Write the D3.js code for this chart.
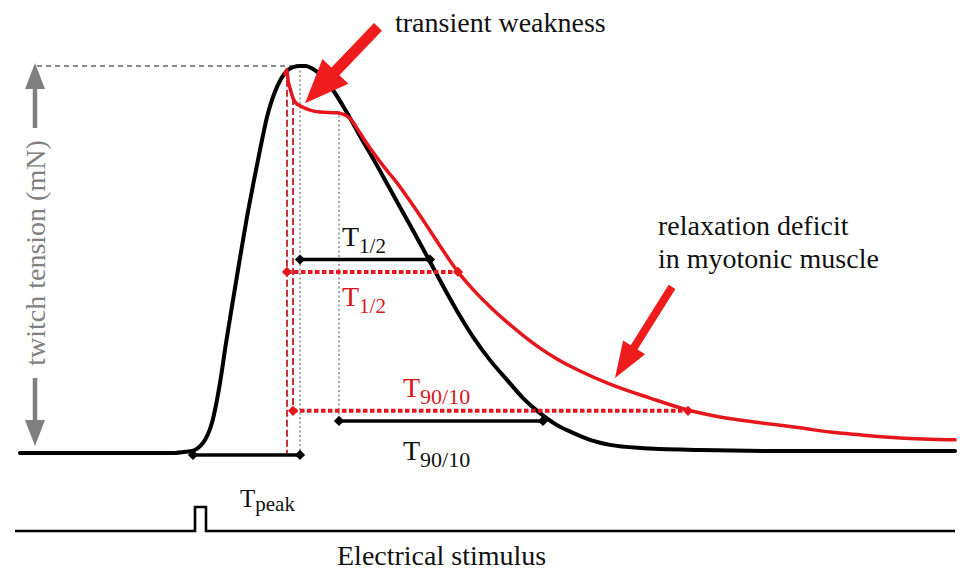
<!DOCTYPE html>
<html>
<head>
<meta charset="utf-8">
<script src="https://cdn.jsdelivr.net/npm/d3@7"></script>
<style>
  html, body { margin: 0; padding: 0; background: #fff; }
  svg { display: block; }
  text { font-family: "Liberation Serif", "Times New Roman", serif; }
</style>
</head>
<body>
<svg id="chart" width="974" height="583"></svg>
<script>
// ---------- DATA (time in ms, tension normalised to peak of control twitch) ----------
const controlTime = [0,16,30,33,34.4,35.6,36.6,37.6,38.4,39.2,40,41.2,42.6,44,45.4,46.8,48,49.4,51.4,53,54.6,56,57.2,58.6,60.6,62.6,65.4,68,72,74,78,81.6,85.4,88,90.6,94,97.4,100.6,104,107.4,110.6,114,118,124,136,156,187];
const controlTension = [0,0,0,0.003,0.005,0.013,0.026,0.049,0.078,0.124,0.181,0.284,0.395,0.504,0.610,0.705,0.783,0.868,0.946,0.982,0.997,1.0,1.0,0.992,0.972,0.938,0.879,0.819,0.729,0.682,0.589,0.504,0.413,0.354,0.300,0.240,0.189,0.142,0.103,0.072,0.052,0.034,0.021,0.013,0.008,0.005,0.005];

const myoTime = [53,53.4,53.6,54,54.6,55.2,56,58,60,63.4,65.4,66.6,67.6,70,73,75.4,78,80.6,84,87.6,91,94,97.4,100.6,104,107.4,112,118,126,133.6,140,148,156,162,168,176,187];
const myoTension = [0.979,0.990,0.964,0.943,0.917,0.904,0.897,0.886,0.881,0.879,0.871,0.855,0.835,0.788,0.736,0.698,0.651,0.602,0.535,0.468,0.417,0.378,0.338,0.304,0.271,0.243,0.212,0.178,0.142,0.111,0.093,0.078,0.065,0.054,0.047,0.039,0.034];

const stimTime = [-1,35,35,37.2,37.2,187];
const stimLevel = [0,0,1,1,0,0];

// interval measurements
const intervalSub    = ["peak","1/2","1/2","90/10","90/10"];
const intervalSeries = ["control","control","myotonic","myotonic","control"];
const intervalStart  = [34.6,56,53.4,54.6,63.8];
const intervalEnd    = [56,82,87.6,133.6,104.6];
const intervalLevel  = [-0.005,0.5,0.468,0.109,0.083];
// label anchors (time, tension) for the interval labels
const labelTime    = [44,64.4,64.4,76.6,76.6];
const labelTension = [-0.140,0.535,0.380,0.145,-0.018];

// guide lines (time, from-tension, to-tension)
const guideSeries = ["control","control","myotonic","myotonic"];
const guideTime   = [56,63.8,53.4,54.6];
const guideFrom   = [1.0,0.884,0.99,0.917];
const guideTo     = [-0.005,0.083,0,0.109];

const annotationTexts = ["transient weakness","relaxation deficit","in myotonic muscle"];
const annotationTime  = [75,127.6,127.6];
const annotationTens  = [1.088,0.563,0.478];

// ---------- SETUP ----------
const svg = d3.select("#chart");
const x = d3.scaleLinear().domain([0,187]).range([20,955]);
const y = d3.scaleLinear().domain([0,1]).range([453,66]);
const yStim = d3.scaleLinear().domain([0,1]).range([531,507]);

const RED = "#e5161c", RED_TXT = "#d9161c", RED_DASH = "#c9333a", GRAY = "#808080";
const colorOf = s => s === "control" ? "#000" : RED;

const curveLine = d3.line().x(d => x(d[0])).y(d => y(d[1])).curve(d3.curveMonotoneX);

// top reference (peak) dashed line
svg.append("line")
  .attr("x1", x(3.4)).attr("x2", x(56)).attr("y1", y(1)).attr("y2", y(1))
  .attr("stroke", "#666").attr("stroke-width", 1.3).attr("stroke-dasharray", "5,4");

// vertical guides
guideTime.forEach((t, i) => {
  const isCtl = guideSeries[i] === "control";
  svg.append("line")
    .attr("x1", x(t)).attr("x2", x(t))
    .attr("y1", y(guideFrom[i])).attr("y2", y(guideTo[i]))
    .attr("stroke", isCtl ? "#777" : RED_DASH)
    .attr("stroke-width", isCtl ? 1.3 : 2)
    .attr("stroke-dasharray", isCtl ? "2,2.5" : "7,3");
});

// curves
svg.append("path")
  .attr("d", curveLine(controlTime.map((t, i) => [t, controlTension[i]])))
  .attr("fill", "none").attr("stroke", "#000").attr("stroke-width", 4)
  .attr("stroke-linejoin", "round").attr("stroke-linecap", "round");

svg.append("path")
  .attr("d", curveLine(myoTime.map((t, i) => [t, myoTension[i]])))
  .attr("fill", "none").attr("stroke", RED).attr("stroke-width", 3.5)
  .attr("stroke-linejoin", "round").attr("stroke-linecap", "round");

// intervals
const diamond = d3.symbol(d3.symbolSquare, 52);
intervalStart.forEach((t0, i) => {
  const c = colorOf(intervalSeries[i]);
  const isMyo = intervalSeries[i] === "myotonic";
  svg.append("line")
    .attr("x1", x(t0)).attr("x2", x(intervalEnd[i]))
    .attr("y1", y(intervalLevel[i])).attr("y2", y(intervalLevel[i]))
    .attr("stroke", c).attr("stroke-width", isMyo ? 4 : 3.5)
    .attr("stroke-dasharray", isMyo ? "4.5,2.5" : null);
  [t0, intervalEnd[i]].forEach(t => {
    svg.append("path").attr("d", diamond())
      .attr("transform", `translate(${x(t)},${y(intervalLevel[i])}) rotate(45)`)
      .attr("fill", c);
  });
  const lbl = svg.append("text")
    .attr("x", x(labelTime[i])).attr("y", y(labelTension[i]))
    .attr("fill", isMyo ? RED_TXT : "#111");
  const isPeak = intervalSub[i] === "peak";
  lbl.append("tspan").attr("font-size", isPeak ? 25 : 28).text("T");
  lbl.append("tspan").attr("font-size", isPeak ? 21 : (intervalSub[i] === "1/2" ? 21 : 22))
    .attr("dy", isPeak ? 4 : 7).text(intervalSub[i]);
});

// stimulus trace
svg.append("path")
  .attr("d", d3.line().x((d) => x(d[0])).y(d => yStim(d[1]))(stimTime.map((t, i) => [t, stimLevel[i]])))
  .attr("fill", "none").attr("stroke", "#000").attr("stroke-width", 2.6);
svg.append("text").attr("x", x(63.4)).attr("y", 565)
  .attr("font-size", 28).attr("fill", "#111").text("Electrical stimulus");

// annotation texts
annotationTexts.forEach((s, i) => {
  svg.append("text").attr("x", x(annotationTime[i])).attr("y", y(annotationTens[i]))
    .attr("font-size", 28).attr("fill", "#111").text(s);
});

// arrow helper
function arrow(x0, y0, x1, y1, shaftW, headL, headW, color) {
  const dx = x1 - x0, dy = y1 - y0, L = Math.hypot(dx, dy);
  const ux = dx / L, uy = dy / L, px = -uy, py = ux;
  const bx = x1 - ux * headL, by = y1 - uy * headL;
  const pts = [
    [x0 + px * shaftW / 2, y0 + py * shaftW / 2],
    [bx + px * shaftW / 2, by + py * shaftW / 2],
    [bx + px * headW / 2, by + py * headW / 2],
    [x1, y1],
    [bx - px * headW / 2, by - py * headW / 2],
    [bx - px * shaftW / 2, by - py * shaftW / 2],
    [x0 - px * shaftW / 2, y0 - py * shaftW / 2]
  ];
  svg.append("path").attr("d", "M" + pts.map(p => p.join(",")).join("L") + "Z").attr("fill", color);
}
arrow(x(71.6), y(1.101), x(57), y(0.904), 11, 44, 36, "#ee1c1c");
arrow(x(130.4), y(0.429), x(119), y(0.194), 8, 36, 26, "#ee1c1c");

// y-axis label with double arrow
arrow(35, 128, 35, 63, 4.5, 26, 20, GRAY);
arrow(35, 378, 35, 446, 4.5, 26, 20, GRAY);
svg.append("text")
  .attr("transform", "translate(45,253) rotate(-90)")
  .attr("text-anchor", "middle")
  .attr("font-size", 28).attr("fill", GRAY).text("twitch tension (mN)");
</script>
</body>
</html>
